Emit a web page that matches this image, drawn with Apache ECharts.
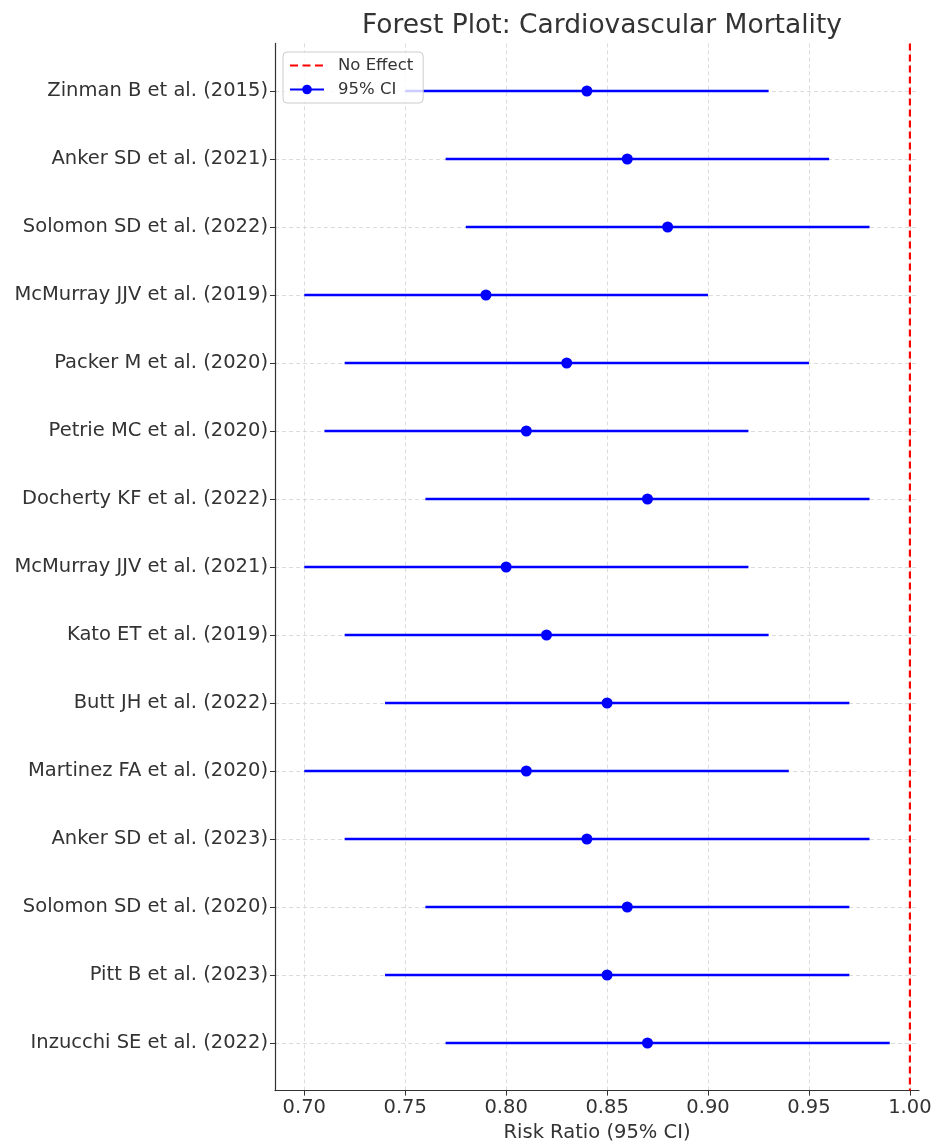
<!DOCTYPE html>
<html><head><meta charset="utf-8">
<script src="https://cdn.jsdelivr.net/npm/echarts@6/dist/echarts.min.js"></script>
<style>html,body{margin:0;padding:0;background:#fff}#c{width:933px;height:1142px}</style>
</head><body><div id="c"></div>
<script>
const studies = ["Zinman B et al. (2015)","Anker SD et al. (2021)","Solomon SD et al. (2022)","McMurray JJV et al. (2019)","Packer M et al. (2020)","Petrie MC et al. (2020)","Docherty KF et al. (2022)","McMurray JJV et al. (2021)","Kato ET et al. (2019)","Butt JH et al. (2022)","Martinez FA et al. (2020)","Anker SD et al. (2023)","Solomon SD et al. (2020)","Pitt B et al. (2023)","Inzucchi SE et al. (2022)"];
const rr    = [0.84,0.86,0.88,0.79,0.83,0.81,0.87,0.80,0.82,0.85,0.81,0.84,0.86,0.85,0.87];
const lower = [0.75,0.77,0.78,0.70,0.72,0.71,0.76,0.70,0.72,0.74,0.70,0.72,0.76,0.74,0.77];
const upper = [0.93,0.96,0.98,0.90,0.95,0.92,0.98,0.92,0.93,0.97,0.94,0.98,0.97,0.97,0.99];
const xTicks = [0.70,0.75,0.80,0.85,0.90,0.95,1.00];
const noEffect = 1.0;

const FONT = "DejaVu Sans";
const rowIdx = studies.map((_, i) => i);
const dashIcon = 'path://M0,0h0.01v0.01h-0.01z M34,12h0.01v0.01h-0.01z M0,4.9h8v2.2h-8z M12.5,4.9h8v2.2h-8z M25,4.9h8v2.2h-8z';
const chart = echarts.init(document.getElementById('c'), null, {renderer:'canvas'});
chart.setOption({
  animation:false,
  backgroundColor:'#fff',
  textStyle:{fontFamily:FONT},
  title:{text:'Forest Plot: Cardiovascular Mortality', left:597, top:8, textAlign:'center',
    textStyle:{fontFamily:FONT, fontSize:26.5, fontWeight:'normal', color:'#333'}},
  legend:{
    data:[{name:'No Effect', icon:dashIcon, itemStyle:{color:'#ff0000'}}, '95% CI'], orient:'vertical', left:283, top:52,
    padding:[5,10,5,6], itemGap:7, itemWidth:34, itemHeight:12,
    backgroundColor:'rgba(255,255,255,0.8)', borderColor:'#cccccc', borderWidth:1, borderRadius:4,
    textStyle:{fontFamily:FONT, fontSize:16.5, color:'#333', padding:[0,0,0,9]}, z:10
  },
  grid:{left:275, right:14, top:43.4, bottom:51.4, containLabel:false, outerBoundsMode:'none'},
  xAxis:{type:'value', min:0.6855, max:1.0045,
    name:'Risk Ratio (95% CI)', nameLocation:'middle', nameGap:30,
    nameTextStyle:{fontFamily:FONT, fontSize:19.5, color:'#333'},
    axisLine:{show:true, onZero:false, lineStyle:{color:'#333', width:1.2}},
    axisTick:{show:true, customValues:xTicks, length:5, lineStyle:{color:'#333'}},
    axisLabel:{customValues:xTicks, formatter:v=>Number(v).toFixed(2), fontFamily:FONT, fontSize:19.5, color:'#333', margin:7},
    splitLine:{show:true, lineStyle:{color:'#d3d3d3', type:[4,3], width:0.8}}
  },
  yAxis:{type:'value', min:-0.7, max:14.7, inverse:true,
    axisLine:{show:true, onZero:false, lineStyle:{color:'#333', width:1.2}},
    axisTick:{show:true, customValues:rowIdx, length:5, lineStyle:{color:'#333'}},
    axisLabel:{customValues:rowIdx, formatter:v=>studies[Math.round(v)]||'', fontFamily:FONT, fontSize:19.5, color:'#333', margin:7},
    splitLine:{show:true, lineStyle:{color:'#d3d3d3', type:[4,3], width:0.8}}
  },
  series:[
    {name:'95% CI', type:'line', data:[], symbol:'circle', symbolSize:11,
      itemStyle:{color:'#0000ff'}, lineStyle:{color:'#0000ff', width:2.5}},
    {name:'No Effect', type:'line', data:[[noEffect,-0.7],[noEffect,14.7]], symbol:'none',
      lineStyle:{color:'#ff0000', width:2.2, type:[7,4]}, itemStyle:{color:'#ff0000'}, z:3},
    {name:'ci', type:'custom', z:2,
      data: rowIdx.map(i => [lower[i], upper[i], i]),
      renderItem:(params, api) => {
        const a = api.coord([api.value(0), api.value(2)]);
        const b = api.coord([api.value(1), api.value(2)]);
        return {type:'line', shape:{x1:a[0], y1:a[1], x2:b[0], y2:b[1]},
          style:{stroke:'#0000ff', lineWidth:2.5}};
      }},
    {name:'pt', type:'scatter', z:4, symbol:'circle', symbolSize:11,
      itemStyle:{color:'#0000ff', opacity:1},
      data: rowIdx.map(i => [rr[i], i])}
  ]
});
</script></body></html>
